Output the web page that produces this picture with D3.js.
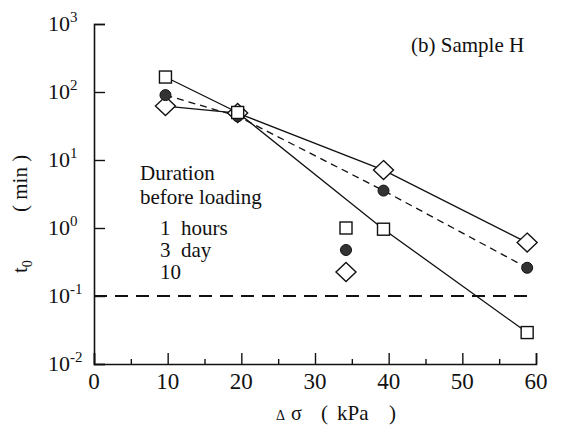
<!DOCTYPE html>
<html>
<head>
<meta charset="utf-8">
<script src="https://cdn.jsdelivr.net/npm/d3@7"></script>
</head>
<body style="margin:0;background:#fff">
<svg id="chart" width="561" height="441" style="display:block;font-family:'Liberation Serif'"></svg>
<script>
// Loading increment (kPa) for each test stage
const stress = [9.7, 19.5, 39.3, 58.8];
// t0 (min) for each duration before loading
const hours1 = [166, 50, 0.96, 0.029];
const days3 = [90, 44, 3.55, 0.26];
const days10 = [62, 49, 7.1, 0.61];
// Reference level drawn as a dashed line
const refLevel = 0.1;
// Axis ticks
const xTicks = [0, 10, 20, 30, 40, 50, 60];
const xMinorTicks = [5, 15, 25, 35, 45, 55];
const yExponents = [-2, -1, 0, 1, 2, 3];
// Legend rows
const legendLabels = ["1\u00a0\u00a0hours", "3\u00a0\u00a0day", "10"];

const SERIF = "'Liberation Serif'";
const svg = d3.select("#chart");
const x = d3.scaleLinear().domain([0, 60]).range([94, 536]);
const y = d3.scaleLog().domain([0.01, 1000]).range([364, 24]);

const ink = "#111";

// Axis lines and ticks only; labels are set separately in the serif face
function bare(g) {
  g.attr("font-family", null).attr("font-size", null);
  g.selectAll(".tick text").remove();
  g.selectAll(".tick line").attr("stroke", ink).attr("stroke-width", 1.4);
}

svg.append("g").attr("transform", `translate(0,${y(0.01)})`)
  .call(d3.axisBottom(x).tickValues(xTicks).tickSize(-11).tickFormat(""))
  .call(bare)
  .call(g => g.select(".domain").attr("stroke", ink).attr("stroke-width", 1.6));
svg.append("g").attr("transform", `translate(0,${y(0.01)})`)
  .call(d3.axisBottom(x).tickValues(xMinorTicks).tickSize(-5).tickFormat(""))
  .call(bare)
  .call(g => g.select(".domain").remove());
svg.append("g").attr("transform", `translate(${x(0)},0)`)
  .call(d3.axisLeft(y).tickValues(yExponents.map(e => Math.pow(10, e))).tickSize(-11).tickFormat(""))
  .call(bare)
  .call(g => g.select(".domain").attr("stroke", ink).attr("stroke-width", 1.6));

// Text layer
const txt = svg.append("g");
function label(parent, xx, yy, size, s) {
  return parent.append("text").attr("x", xx).attr("y", yy).attr("fill", ink)
    .style("font-family", SERIF).style("font-size", size + "px").text(s);
}

// X tick labels
xTicks.forEach(d => label(txt, x(d), 389, 23, d).attr("text-anchor", "middle"));

// Y tick labels as powers of ten
yExponents.forEach(e => {
  const t = label(txt, 48, y(Math.pow(10, e)) + 7, 22, "");
  t.append("tspan").text("10");
  t.append("tspan").attr("dy", -9).style("font-size", "15px").text(e);
});

// X axis title
label(txt, 276, 420, 14, "Δ");
label(txt, 291, 420, 20, "σ");
label(txt, 321, 420, 21, "(");
label(txt, 337, 420, 21, "kPa");
label(txt, 389, 420, 21, ")");

// Y axis title (rotated)
const yt = txt.append("g").attr("transform", "translate(27,0) rotate(-90)");
const t0 = label(yt, -273, 0, 21, "");
t0.append("tspan").text("t");
t0.append("tspan").attr("dy", 5).style("font-size", "14px").text("0");
label(yt, -212, 0, 21, "(\u00a0min\u00a0)");

// Panel title
label(txt, 411, 52, 21, "(b) Sample H");

// Dashed reference line
svg.append("line")
  .attr("x1", x(0)).attr("x2", x(58.8))
  .attr("y1", y(refLevel)).attr("y2", y(refLevel))
  .attr("stroke", ink).attr("stroke-width", 2)
  .attr("stroke-dasharray", "13,8");

// Series lines
const line = d3.line().x((d, i) => x(stress[i])).y(d => y(d));
svg.append("path").datum(hours1).attr("d", line)
  .attr("fill", "none").attr("stroke", ink).attr("stroke-width", 1.3);
svg.append("path").datum(days10).attr("d", line)
  .attr("fill", "none").attr("stroke", ink).attr("stroke-width", 1.3);
svg.append("path").datum(days3).attr("d", line)
  .attr("fill", "none").attr("stroke", ink).attr("stroke-width", 1.3)
  .attr("stroke-dasharray", "7,5");

// Marker drawers
function square(g, cx, cy) {
  g.append("rect").attr("x", cx - 6).attr("y", cy - 6).attr("width", 12).attr("height", 12)
    .attr("fill", "#fff").attr("stroke", ink).attr("stroke-width", 1.4);
}
function dot(g, cx, cy) {
  g.append("circle").attr("cx", cx).attr("cy", cy).attr("r", 5.5)
    .attr("fill", "#333").attr("stroke", ink).attr("stroke-width", 1);
}
function diamond(g, cx, cy) {
  g.append("path").attr("d", `M${cx},${cy - 9.5}L${cx + 10},${cy}L${cx},${cy + 9.5}L${cx - 10},${cy}Z`)
    .attr("fill", "#fff").attr("stroke", ink).attr("stroke-width", 1.4);
}

const marks = svg.append("g");
days10.forEach((v, i) => diamond(marks, x(stress[i]), y(v)));
days3.forEach((v, i) => dot(marks, x(stress[i]), y(v)));
hours1.forEach((v, i) => square(marks, x(stress[i]), y(v)));

// Legend
label(txt, 140, 180, 21, "Duration");
label(txt, 140, 204, 21, "before loading");
const drawers = [square, dot, diamond];
legendLabels.forEach((t, i) => {
  const yy = 228 + i * 22;
  label(txt, 160, yy + 7, 21, t);
  drawers[i](svg, 346, yy);
});
</script>
</body>
</html>
